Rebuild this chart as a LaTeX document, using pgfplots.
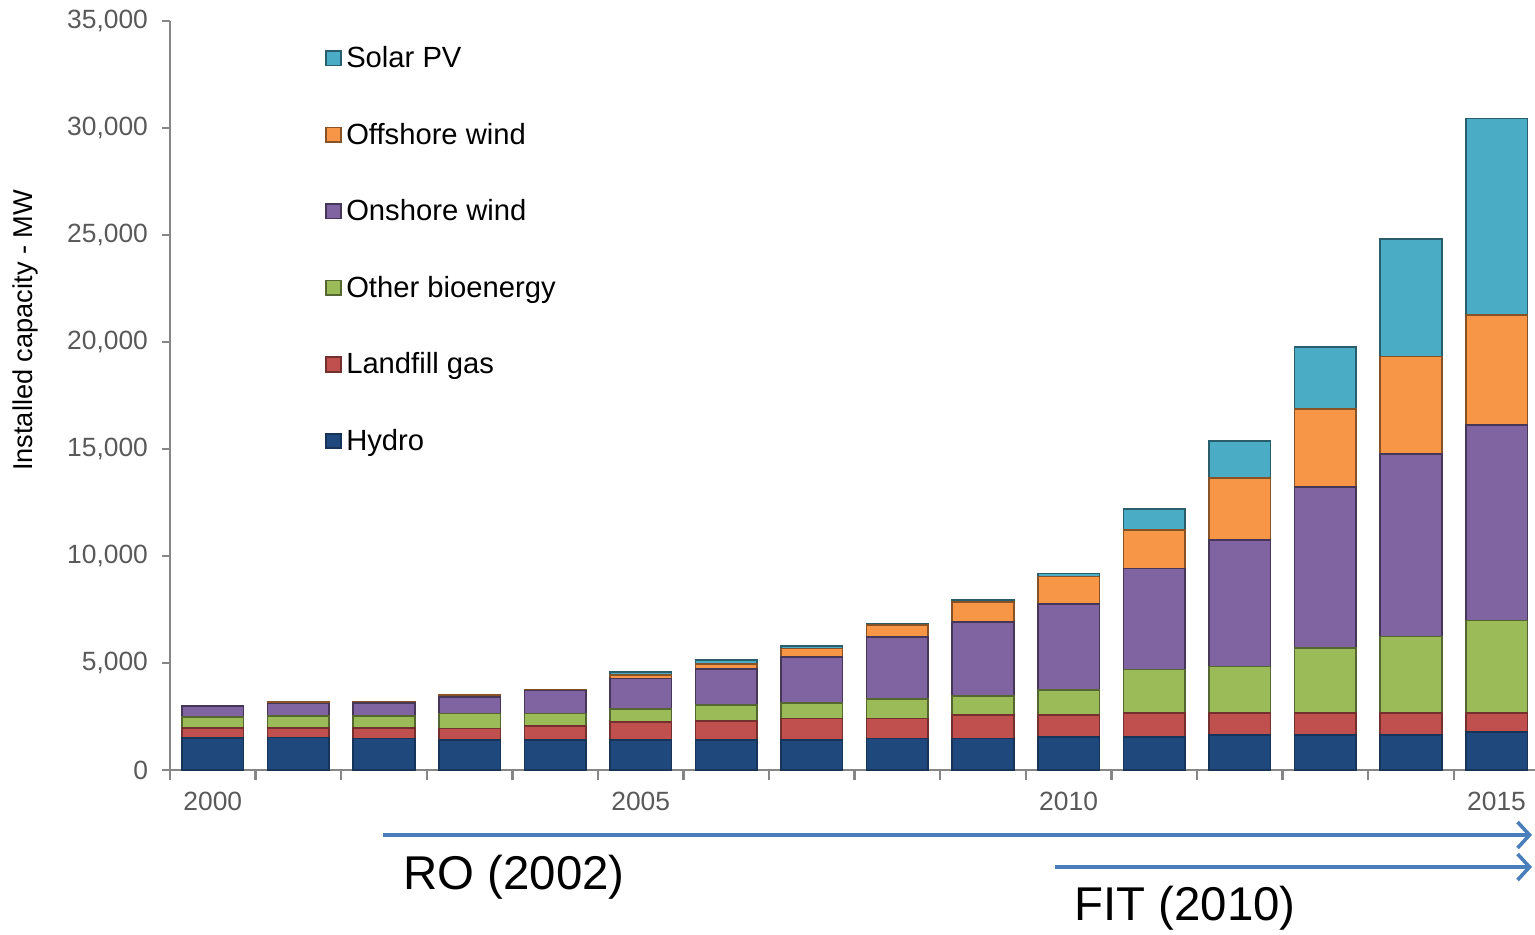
\documentclass[border=0pt]{standalone}
\usepackage{pgfplots}
\pgfplotsset{compat=1.18}
\usepackage{fontspec}
\setmainfont{Liberation Sans}
\usetikzlibrary{arrows.meta}
\definecolor{hydro}{HTML}{1F497D}
\definecolor{landfill}{HTML}{C0504D}
\definecolor{bio}{HTML}{9BBB59}
\definecolor{onshore}{HTML}{8064A2}
\definecolor{offshore}{HTML}{F79646}
\definecolor{solar}{HTML}{4BACC6}
\definecolor{arrowblue}{HTML}{4A7EBB}
\definecolor{axisgray}{HTML}{868686}
\definecolor{ticktext}{HTML}{595959}
\pgfplotstableread{
x hydro landfill bio onshore offshore solar
0  1500 470 520 500 0 0
1  1520 440 575 580 50 0
2  1480 470 575 610 60 0
3  1400 545 700 780 70 0
4  1400 650 600 1060 60 0
5  1400 855 595 1435 155 150
6  1400 900 735 1680 230 190
7  1400 1010 730 2150 390 110
8  1480 935 890 2900 580 40
9  1480 1090 890 3470 935 80
10 1556 1013 1168 4020 1277 156
11 1556 1120 2028 4720 1790 970
12 1636 1042 2150 5920 2910 1715
13 1636 1042 3037 7496 3660 2883
14 1636 1042 3552 8524 4560 5486
15 1790 888 4300 9145 5140 9190
}\datatable
\begin{document}
\begin{tikzpicture}
\useasboundingbox (-85pt,-82pt) rectangle (682.5pt,385pt);
\begin{axis}[
  at={(0,0)}, anchor=south west,
  scale only axis,
  width=682.5pt, height=374.5pt,
  ybar stacked, bar width=0.72,
  xmin=-0.5, xmax=15.45,
  ymin=0, ymax=35000,
  axis x line*=bottom, axis y line*=left,
  axis line style={axisgray, line width=1.2pt},
  tick align=outside,
  xtick={0,5,10,15}, xticklabels={2000,2005,2010,2015},
  major x tick style={draw=none},
  minor xtick={-0.5,0.5,...,14.5},
  minor tick length=5pt,
  minor x tick style={axisgray, line width=1.2pt},
  ytick={0,5000,...,35000},
  major tick length=4pt,
  y tick style={axisgray, line width=1.2pt},
  scaled y ticks=false,
  /pgf/number format/.cd, 1000 sep={,}, assume math mode=true,
  /pgfplots/.cd,
  tick label style={font=\fontsize{13.2}{15}\selectfont, text=ticktext},
  xticklabel style={yshift=-3.5pt},
  yticklabel style={xshift=-3.5pt},
  ylabel={Installed capacity - MW},
  ylabel style={at={(axis description cs:-0.106,0.587)}, anchor=center, font=\fontsize{13.6}{15}\selectfont},
  reverse legend,
  legend cell align=left,
  legend image code/.code={\draw[#1, line width=0.9pt] (0pt,-3.5pt) rectangle (7.5pt,3.8pt);},
  legend style={at={(axis description cs:0.1136,0.972)}, anchor=north west, draw=none, fill=none,
    font=\fontsize{14.6}{16}\selectfont, row sep=22.2pt, inner sep=0pt,
    /tikz/every even column/.append style={column sep=2pt}},
  every axis plot/.append style={line width=0.8pt},
]
\addplot[fill=hydro, draw=hydro!70!black] table[x=x, y=hydro] {\datatable};
\addplot[fill=landfill, draw=landfill!60!black] table[x=x, y=landfill] {\datatable};
\addplot[fill=bio, draw=bio!55!black] table[x=x, y=bio] {\datatable};
\addplot[fill=onshore, draw=onshore!55!black] table[x=x, y=onshore] {\datatable};
\addplot[fill=offshore, draw=offshore!55!black] table[x=x, y=offshore] {\datatable};
\addplot[fill=solar, draw=solar!55!black] table[x=x, y=solar] {\datatable};
\legend{Hydro, Landfill gas, Other bioenergy, Onshore wind, Offshore wind, Solar PV}
\end{axis}
\draw[arrowblue, line width=1.8pt, -{Straight Barb[length=6pt, width=13pt, line width=1.8pt]}] (106.5pt,-32.5pt) -- (681pt,-32.5pt);
\draw[arrowblue, line width=1.8pt, -{Straight Barb[length=6pt, width=13pt, line width=1.8pt]}] (442.5pt,-48.5pt) -- (681pt,-48.5pt);
\node[font=\fontsize{23.7}{26}\selectfont, inner sep=0pt] at (172pt,-53.5pt) {RO (2002)};
\node[font=\fontsize{23.7}{26}\selectfont, inner sep=0pt] at (507.5pt,-69pt) {FIT (2010)};
\end{tikzpicture}
\end{document}
